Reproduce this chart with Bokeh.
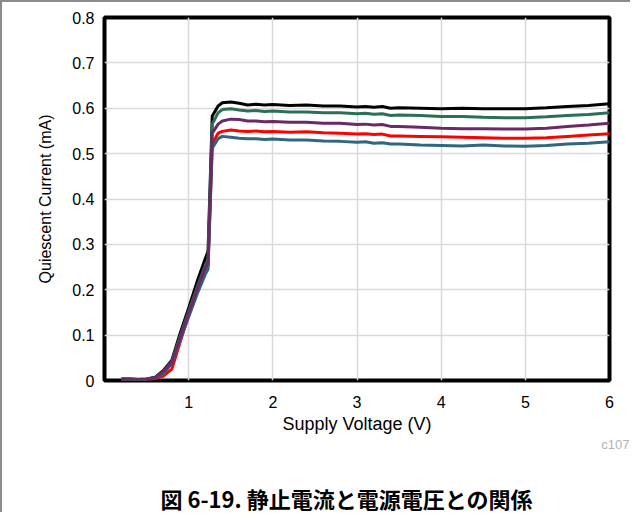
from bokeh.plotting import figure
from bokeh.models import Range1d, FixedTicker, Title
from bokeh.embed import file_html
from bokeh.resources import INLINE

# ---- data -------------------------------------------------------------
voltage = [0.2, 0.3, 0.4, 0.5, 0.6, 0.7, 0.8, 0.9, 1.0, 1.1, 1.2, 1.23, 1.28,
           1.35, 1.4, 1.5, 1.6, 1.7, 1.8, 1.9, 2.0, 2.2, 2.4, 2.6, 2.8, 3.0,
           3.1, 3.2, 3.3, 3.4, 3.5, 3.75, 4.0, 4.25, 4.5, 4.75, 5.0, 5.25,
           5.5, 5.75, 6.0]

i_black = [0.003, 0.003, 0.002, 0.003, 0.007, 0.022, 0.045, 0.105, 0.160, 0.218,
           0.270, 0.285, 0.583, 0.605, 0.612, 0.614, 0.611, 0.607, 0.609, 0.607,
           0.608, 0.606, 0.607, 0.605, 0.605, 0.603, 0.604, 0.602, 0.604, 0.600,
           0.601, 0.600, 0.599, 0.600, 0.599, 0.599, 0.599, 0.601, 0.604, 0.606,
           0.610]
i_green = [0.003, 0.003, 0.002, 0.003, 0.006, 0.020, 0.042, 0.098, 0.152, 0.205,
           0.255, 0.265, 0.565, 0.590, 0.597, 0.599, 0.596, 0.594, 0.595, 0.593,
           0.594, 0.592, 0.592, 0.590, 0.590, 0.588, 0.589, 0.587, 0.588, 0.584,
           0.585, 0.584, 0.582, 0.582, 0.580, 0.579, 0.579, 0.581, 0.584, 0.586,
           0.590]
i_purple = [0.004, 0.004, 0.003, 0.004, 0.006, 0.020, 0.040, 0.095, 0.148, 0.200,
            0.250, 0.258, 0.545, 0.565, 0.572, 0.576, 0.575, 0.572, 0.572, 0.570,
            0.571, 0.569, 0.569, 0.567, 0.567, 0.564, 0.565, 0.563, 0.564, 0.560,
            0.560, 0.558, 0.556, 0.555, 0.555, 0.554, 0.554, 0.556, 0.560, 0.563,
            0.567]
i_red = [0.002, 0.002, 0.001, 0.002, 0.004, 0.010, 0.025, 0.085, 0.145, 0.197,
         0.245, 0.252, 0.522, 0.545, 0.549, 0.552, 0.550, 0.549, 0.550, 0.548,
         0.549, 0.547, 0.548, 0.546, 0.545, 0.543, 0.544, 0.542, 0.543, 0.539,
         0.539, 0.538, 0.537, 0.536, 0.535, 0.534, 0.534, 0.535, 0.538, 0.541,
         0.544]
i_blue = [0.002, 0.002, 0.001, 0.002, 0.005, 0.015, 0.038, 0.090, 0.140, 0.190,
          0.235, 0.245, 0.512, 0.533, 0.538, 0.536, 0.534, 0.533, 0.533, 0.531,
          0.532, 0.530, 0.530, 0.528, 0.527, 0.525, 0.526, 0.523, 0.524, 0.521,
          0.521, 0.519, 0.518, 0.517, 0.519, 0.517, 0.516, 0.518, 0.521, 0.523,
          0.526]

x_ticks = [1, 2, 3, 4, 5, 6]
y_ticks = [0, 0.1, 0.2, 0.3, 0.4, 0.5, 0.6, 0.7, 0.8]
y_tick_labels = ["0", "0.1", "0.2", "0.3", "0.4", "0.5", "0.6", "0.7", "0.8"]

x_label = "Supply Voltage (V)"
y_label = "Quiescent Current (mA)"
caption = "図 6-19. 静止電流と電源電圧との関係"
code_tag = "c107"

# ---- figure -----------------------------------------------------------
FONT = "Liberation Sans"

p = figure(width=630, height=512, output_backend="svg", toolbar_location=None,
           x_range=Range1d(0, 6), y_range=Range1d(0, 0.8),
           min_border_left=102, min_border_right=23, min_border_top=15,
           min_border_bottom=134)
p.styles = {"border-top": "2px solid #8c8c8c", "border-left": "2px solid #8c8c8c"}

p.outline_line_color = "black"
p.outline_line_width = 4
p.background_fill_color = "white"
p.border_fill_color = "white"

p.xgrid.ticker = FixedTicker(ticks=x_ticks)
p.ygrid.ticker = FixedTicker(ticks=y_ticks)
p.grid.grid_line_color = "#d9d9d9"
p.grid.grid_line_width = 1.5

for ax in (p.xaxis, p.yaxis):
    ax.axis_line_color = None
    ax.major_tick_line_color = None
    ax.minor_tick_line_color = None
    ax.major_tick_out = 0
    ax.major_tick_in = 0
    ax.minor_tick_out = 0
    ax.minor_tick_in = 0
    ax.major_label_text_font = FONT
    ax.major_label_text_font_size = "16px"
    ax.major_label_text_color = "black"
    ax.axis_label_text_font = FONT
    ax.axis_label_text_font_style = "normal"
    ax.axis_label_text_color = "black"

p.xaxis.axis_label_text_font_size = "18px"
p.yaxis.axis_label_text_font_size = "16px"
p.xaxis.ticker = FixedTicker(ticks=x_ticks)
p.yaxis.ticker = FixedTicker(ticks=y_ticks)
p.yaxis.major_label_overrides = {t: lab for t, lab in zip(y_ticks, y_tick_labels)}
p.xaxis.axis_label = x_label
p.yaxis.axis_label = y_label
p.xaxis.major_label_standoff = 15
p.xaxis.axis_label_standoff = 3
p.yaxis.major_label_standoff = 10
p.yaxis.axis_label_standoff = 15

series = [
    (i_black, "#000000"),
    (i_red, "#ff0000"),
    (i_blue, "#2f6680"),
    (i_green, "#2a7052"),
    (i_purple, "#6a2a68"),
]
for ys, col in series:
    p.line(voltage, ys, line_color=col, line_width=3)

# texts below the axis, stacked in the bottom panel
tag_title = Title(text=code_tag, align="right", offset=-20, standoff=0,
                  vertical_align="top",
                  text_font=FONT, text_font_size="13px",
                  text_font_style="normal", text_color="#b3b3b3")
spacer = Title(text=" ", standoff=12, text_font=FONT, text_font_size="10px")
cap_title = Title(text=caption, align="left", offset=56, standoff=2,
                  vertical_align="bottom",
                  text_font="Noto Sans CJK JP", text_font_size="22px",
                  text_font_style="bold", text_color="black")
p.add_layout(tag_title, "below")
p.add_layout(spacer, "below")
p.add_layout(cap_title, "below")

open("out.html", "w").write(file_html(p, INLINE))
